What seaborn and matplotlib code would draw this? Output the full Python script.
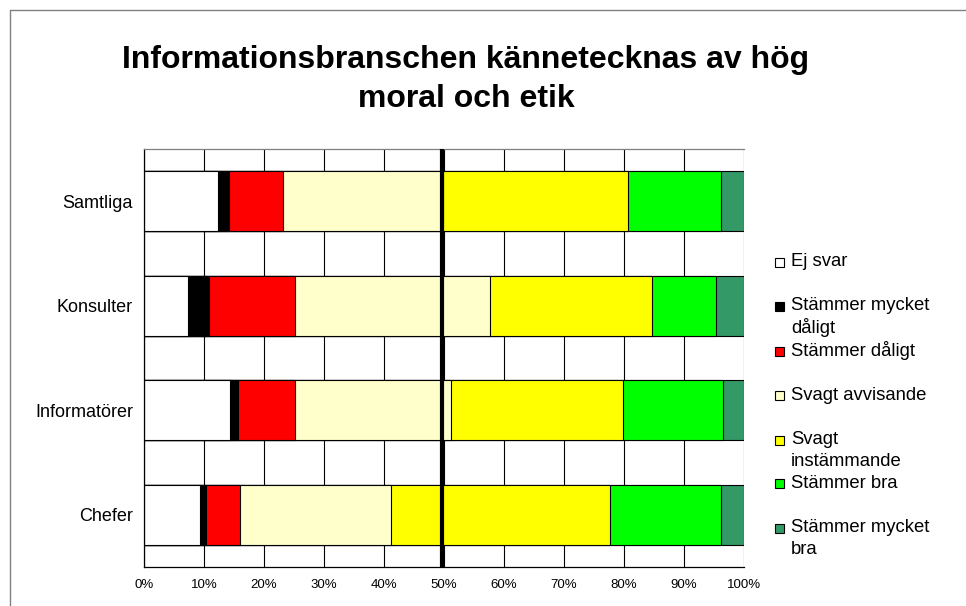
import numpy as np
import pandas as pd
import matplotlib
matplotlib.use("Agg")
import matplotlib.pyplot as plt
from matplotlib.patches import Rectangle
from matplotlib.lines import Line2D
import seaborn as sns

categories = ["Samtliga", "Konsulter", "Informatörer", "Chefer"]
series_names = ["Ej svar", "Stämmer mycket\ndåligt", "Stämmer dåligt",
                "Svagt avvisande", "Svagt\ninstämmande", "Stämmer bra",
                "Stämmer mycket\nbra"]
ej_svar = [12.3, 7.4, 14.4, 9.4]
stammer_mycket_daligt = [1.8, 3.5, 1.3, 1.0]
stammer_daligt = [9.0, 14.3, 9.4, 5.6]
svagt_avvisande = [26.7, 32.5, 26.1, 25.2]
svagt_instammande = [30.8, 26.9, 28.7, 36.5]
stammer_bra = [15.5, 10.7, 16.6, 18.5]
stammer_mycket_bra = [3.9, 4.7, 3.5, 3.8]
xtick_values = [0, 10, 20, 30, 40, 50, 60, 70, 80, 90, 100]
xtick_labels = ["0%", "10%", "20%", "30%", "40%", "50%", "60%", "70%", "80%", "90%", "100%"]
title_lines = ["Informationsbranschen kännetecknas av hög", "moral och etik"]
midline = 49.7

colors = ["#FFFFFF", "#000000", "#FF0000", "#FFFFCC", "#FFFF00", "#00FF00", "#339966"]

sns.set_style("white")
plt.rcParams["font.family"] = ["Liberation Sans", "DejaVu Sans"]
plt.rcParams["text.color"] = "black"
plt.rcParams["xtick.color"] = "black"
plt.rcParams["ytick.color"] = "black"
plt.rcParams["axes.labelcolor"] = "black"

series = [ej_svar, stammer_mycket_daligt, stammer_daligt, svagt_avvisande,
          svagt_instammande, stammer_bra, stammer_mycket_bra]
cum = np.cumsum(np.array(series), axis=0)

W, H = 966, 606
fig = plt.figure(figsize=(W / 100, H / 100), dpi=100)
ax = fig.add_axes([144 / W, 1 - 567 / H, 600 / W, (567 - 149) / H])

# vertical gridlines
for v in xtick_values:
    ax.axvline(v, color="black", lw=0.8, zorder=0)

# stacked bars: draw cumulative totals from largest to smallest
for i in range(len(series) - 1, -1, -1):
    df = pd.DataFrame({"cat": categories, "val": cum[i]})
    sns.barplot(data=df, x="val", y="cat", orient="h", color=colors[i],
                width=0.57, edgecolor="black", linewidth=0.8, ax=ax,
                saturation=1, zorder=2)

ax.axvline(midline, color="black", lw=3, zorder=5)

ax.set_xlim(0, 100)
ax.set_ylim(3.5, -0.5)
ax.set_xlabel("")
ax.set_ylabel("")
ax.set_xticks(xtick_values)
ax.set_xticklabels(xtick_labels, fontsize=9.5)
ax.tick_params(axis="x", direction="out", length=4, width=0.8, color="black",
               labelcolor="black", pad=5)
ax.set_yticks([-0.5, 0.5, 1.5, 2.5, 3.5])
ax.set_yticklabels([])
ax.tick_params(axis="y", which="major", direction="out", length=5, width=0.8, color="black")
ax.set_yticks(range(len(categories)), minor=True)
ax.set_yticklabels(categories, minor=True, fontsize=13)
ax.tick_params(axis="y", which="minor", length=0, pad=8, labelcolor="black")

for s in ["left", "bottom"]:
    ax.spines[s].set_color("black")
    ax.spines[s].set_linewidth(0.9)
ax.spines["top"].set_color("#808080")
ax.spines["top"].set_linewidth(0.9)
ax.spines["right"].set_visible(False)

# title
for k, (line, y) in enumerate(zip(title_lines, [60, 99])):
    fig.text(466 / W, 1 - y / H, line, ha="center", va="center", fontsize=23,
             fontweight="bold", color="black")

# manual legend
legend_y = [262, 306, 351, 395, 440, 483, 528]
for name, col, y in zip(series_names, colors, legend_y):
    fig.patches.append(Rectangle((775 / W, 1 - (y + 4.5) / H), 9 / W, 9 / H,
                                 transform=fig.transFigure, facecolor=col,
                                 edgecolor="black", linewidth=0.8))
    for j, line in enumerate(name.split("\n")):
        fig.text(791 / W, 1 - (y + j * 21.5) / H, line, ha="left", va="center",
                 fontsize=13.3, color="black")

# outer frame (left and top)
fig.add_artist(Line2D([10 / W, 10 / W], [0, 1 - 10 / H], transform=fig.transFigure,
                      color="#808080", lw=1))
fig.add_artist(Line2D([10 / W, 1], [1 - 10 / H, 1 - 10 / H], transform=fig.transFigure,
                      color="#808080", lw=1))

fig.savefig("out.png", dpi=100, facecolor="white")
